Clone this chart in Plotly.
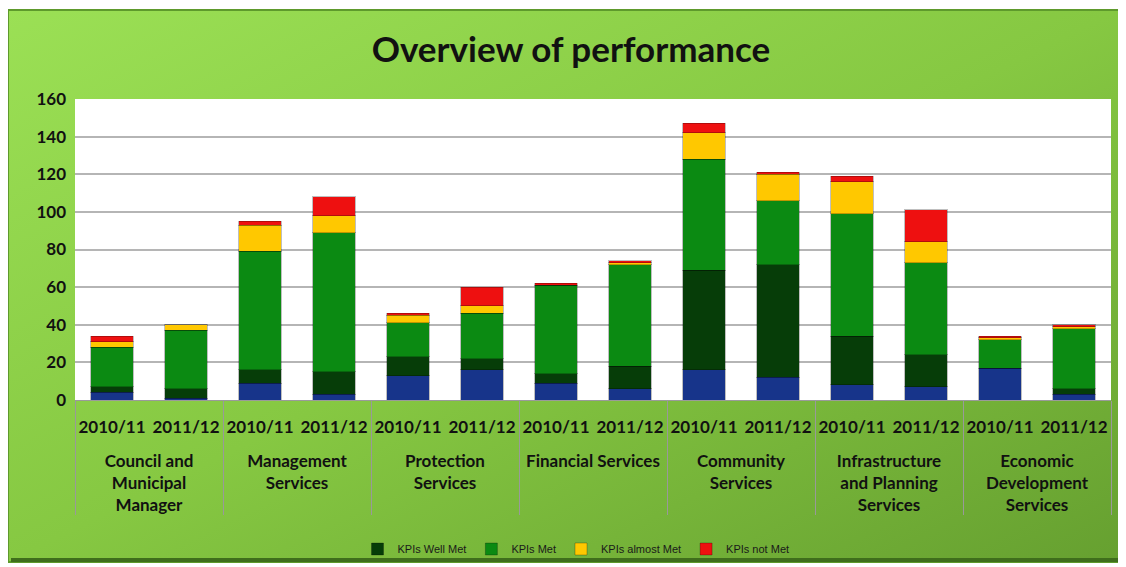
import base64
import plotly.graph_objects as go

departments = [
    "<br>Council and<br>Municipal<br>Manager",
    "<br>Management<br>Services",
    "<br>Protection<br>Services",
    "<br>Financial Services",
    "<br>Community<br>Services",
    "<br>Infrastructure<br>and Planning<br>Services",
    "<br>Economic<br>Development<br>Services",
]
years = ["2010/11", "2011/12"]

# values per bar, order: dept x year
kpis_extremely_well_met = [4, 1, 9, 3, 13, 16, 9, 6, 16, 12, 8, 7, 17, 3]
kpis_well_met = [3, 5, 7, 12, 10, 6, 5, 12, 53, 60, 26, 17, 0, 3]
kpis_met = [21, 31, 63, 74, 18, 24, 47, 54, 59, 34, 65, 49, 15, 32]
kpis_almost_met = [3, 3, 14, 9, 4, 4, 0, 1, 14, 14, 17, 11, 1, 1]
kpis_not_met = [3, 0, 2, 10, 1, 10, 1, 1, 5, 1, 3, 17, 1, 1]

x_outer = [d for d in departments for _ in years]
x_inner = [y for _ in departments for y in years]

series = [
    ("KPIs Extremely Well Met", kpis_extremely_well_met, "#17348a", False),
    ("KPIs Well Met", kpis_well_met, "#063d08", True),
    ("KPIs Met", kpis_met, "#0b8a12", True),
    ("KPIs almost Met", kpis_almost_met, "#ffc800", True),
    ("KPIs not Met", kpis_not_met, "#ee1010", True),
]

fig = go.Figure()
for name, vals, col, show in series:
    fig.add_trace(go.Bar(
        x=[x_outer, x_inner], y=vals, name=name, showlegend=show,
        marker=dict(color=col, line=dict(color="rgba(0,0,0,0.25)", width=1)),
    ))

# page body has an 8px margin, so figure coords = screen coords - 8
OFF = 8
W, H = 1126 - OFF, 567 - OFF
ml, mr, mt, mb = 67, 15, 91, 167
pw, ph = W - ml - mr, H - mt - mb

def px(x):
    return (x - OFF - ml) / pw

def py(y):
    return (H - mb - (y - OFF)) / ph

svg = (
    '<svg xmlns="http://www.w3.org/2000/svg" width="1000" height="500" preserveAspectRatio="none">'
    '<defs><linearGradient id="g" x1="0" y1="0" x2="1" y2="1">'
    '<stop offset="0" stop-color="#9be055"/>'
    '<stop offset="0.5" stop-color="#86c842"/>'
    '<stop offset="1" stop-color="#66a030"/>'
    '</linearGradient></defs>'
    '<rect width="1000" height="500" fill="url(#g)"/></svg>'
)
src = "data:image/svg+xml;base64," + base64.b64encode(svg.encode()).decode()

fx0, fx1, fy0, fy1 = 8, 1119, 10, 562
fig.add_layout_image(dict(
    source=src, xref="paper", yref="paper",
    x=px(fx0), y=py(fy0), sizex=px(fx1) - px(fx0), sizey=py(fy0) - py(fy1),
    xanchor="left", yanchor="top", sizing="stretch", layer="below",
))

shapes = [
    dict(type="rect", xref="paper", yref="paper", x0=px(fx0), x1=px(fx1), y0=py(fy1), y1=py(fy0),
         line=dict(color="#5e9a2c", width=2), fillcolor="rgba(0,0,0,0)", layer="below"),
    dict(type="rect", xref="paper", yref="paper", x0=px(fx1), x1=px(fx1 + 6), y0=py(fy1), y1=py(fy0 + 4),
         line=dict(width=0), fillcolor="#2f5a12", layer="below"),
    dict(type="rect", xref="paper", yref="paper", x0=px(fx0 + 3), x1=px(fx1), y0=py(fy1), y1=py(fy1 - 4),
         line=dict(width=0), fillcolor="#3f6e1c", layer="below"),
    dict(type="rect", xref="paper", yref="paper", x0=0, x1=1, y0=0, y1=1,
         line=dict(width=0), fillcolor="white", layer="below"),
]

font_family = "Lato, 'Open Sans', sans-serif"

fig.update_layout(
    width=W, height=H,
    margin=dict(l=ml, r=mr, t=mt, b=mb, autoexpand=False),
    paper_bgcolor="white",
    plot_bgcolor="rgba(0,0,0,0)",
    barmode="stack",
    bargap=0.42,
    shapes=shapes,
    title=dict(text="Overview of performance", x=(571 - OFF) / W, xanchor="center",
               y=1 - (50 - OFF) / H, yanchor="middle",
               font=dict(family=font_family, size=35, color="#111111", weight="bold")),
    legend=dict(orientation="h", x=px(576), xanchor="center", y=py(549), yanchor="middle",
                font=dict(family="'Liberation Sans Narrow', 'Liberation Sans', sans-serif", size=11, color="#1a1a1a"),
                bgcolor="rgba(0,0,0,0)", itemwidth=30, traceorder="normal"),
    font=dict(family=font_family, color="#111111"),
)

fig.update_xaxes(
    type="multicategory",
    showgrid=False,
    showline=True, linecolor="#9a9a9a", linewidth=1,
    ticks="", showdividers=True, dividercolor="#999999", dividerwidth=1,
    tickfont=dict(family=font_family, size=17, color="#111111", weight="bold"),
    tickangle=0,
    ticklabelstandoff=12,
)
fig.update_yaxes(
    range=[0, 160], dtick=20,
    showgrid=True, gridcolor="#b5b5b5", gridwidth=1.5,
    zeroline=False, showline=False,
    tickfont=dict(family=font_family, size=17, color="#111111", weight="bold"),
    ticks="", ticklabelstandoff=8,
)

fig.write_html("out.html")
